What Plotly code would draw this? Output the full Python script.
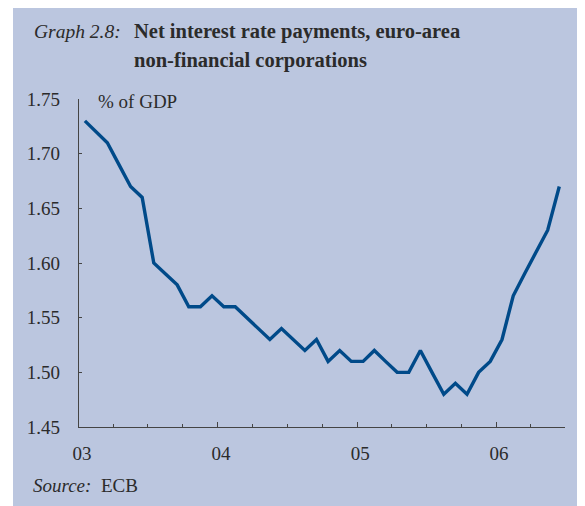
import pandas as pd
import plotly.graph_objects as go

months = pd.date_range("2003-01-01", periods=42, freq="MS")
values = [1.73, 1.72, 1.71, 1.69, 1.67, 1.66, 1.60, 1.59, 1.58, 1.56, 1.56, 1.57,
          1.56, 1.56, 1.55, 1.54, 1.53, 1.54, 1.53, 1.52, 1.53, 1.51, 1.52, 1.51,
          1.51, 1.52, 1.51, 1.50, 1.50, 1.52, 1.50, 1.48, 1.49, 1.48, 1.50, 1.51,
          1.53, 1.57, 1.59, 1.61, 1.63, 1.67]
y_ticks = [1.45, 1.50, 1.55, 1.60, 1.65, 1.70, 1.75]
y_ticklabels = ["1.45", "1.50", "1.55", "1.60", "1.65", "1.70", "1.75"]

BG = "#bbc6df"
LINE = "#004a89"
TXT = "#2b2b2b"
SERIF = "Liberation Serif, Times New Roman, serif"

# page is offset by the 8px body margin; work in reference pixel coords
OFF = 8
W, H = 585 - OFF, 506 - OFF
L, R, T, B = 79 - OFF, 20, 99 - OFF, 506 - 427


def px(x):
    return (x - OFF - L) / (W - L - R)


def py(y):
    return (H - B - (y - OFF)) / (H - T - B)


fig = go.Figure()
fig.add_trace(go.Scatter(
    x=months, y=values, mode="lines",
    xperiod="M1", xperiodalignment="middle",
    line=dict(color=LINE, width=3.4), hoverinfo="skip", showlegend=False,
))

fig.update_layout(
    width=W, height=H,
    margin=dict(l=L, r=R, t=T, b=B),
    paper_bgcolor=BG, plot_bgcolor=BG,
    font=dict(family=SERIF, color=TXT, size=19),
    xaxis=dict(
        type="date", range=["2003-01-01", "2006-07-01"],
        tick0="2003-01-01", dtick="M12", tickformat="%y",
        ticks="inside", ticklen=5, tickwidth=1.2, tickcolor="#444",
        showline=True, linecolor="#444", linewidth=1.2,
        showgrid=False, zeroline=False,
        minor=dict(dtick="M3", tick0="2003-01-01", ticks="inside", ticklen=3,
                   tickwidth=1, tickcolor="#444", showgrid=False),
        ticklabelstandoff=9, ticklabelshift=3,
        tickfont=dict(size=19, family=SERIF, color=TXT),
    ),
    yaxis=dict(
        range=[1.45, 1.75], tickvals=y_ticks, ticktext=y_ticklabels,
        ticks="inside", ticklen=3, tickwidth=1, tickcolor="#444",
        showline=True, linecolor="#444", linewidth=1.2,
        showgrid=False, zeroline=False,
        ticklabelstandoff=14,
        tickfont=dict(size=19, family=SERIF, color=TXT),
    ),
)

# white strip at left of the page
fig.add_shape(type="rect", xref="paper", yref="paper",
              x0=px(OFF), x1=px(13), y0=py(506), y1=py(OFF),
              fillcolor="white", line=dict(width=0), layer="above")

fig.add_annotation(xref="paper", yref="paper", x=px(32), y=py(32),
                   xanchor="left", yanchor="middle", showarrow=False,
                   text="<i>Graph 2.8:</i>", font=dict(size=19.5, family=SERIF, color=TXT))
fig.add_annotation(xref="paper", yref="paper", x=px(132), y=py(32),
                   xanchor="left", yanchor="middle", showarrow=False,
                   text="<b>Net interest rate payments, euro-area</b>",
                   font=dict(size=20.5, family=SERIF, color=TXT))
fig.add_annotation(xref="paper", yref="paper", x=px(132), y=py(60),
                   xanchor="left", yanchor="middle", showarrow=False,
                   text="<b>non-financial corporations</b>",
                   font=dict(size=20.5, family=SERIF, color=TXT))
fig.add_annotation(xref="paper", yref="paper", x=px(96), y=py(101),
                   xanchor="left", yanchor="middle", showarrow=False,
                   text="% of GDP", font=dict(size=19, family=SERIF, color=TXT))
fig.add_annotation(xref="paper", yref="paper", x=px(31), y=py(485),
                   xanchor="left", yanchor="middle", showarrow=False,
                   text="<i>Source:</i>  ECB", font=dict(size=19, family=SERIF, color=TXT))

fig.write_html("out.html")
